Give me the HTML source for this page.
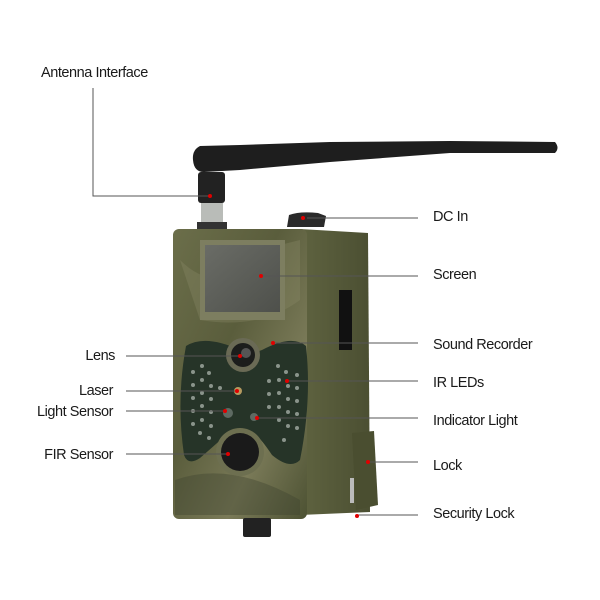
<!DOCTYPE html>
<html><head><style>
html,body{margin:0;padding:0;background:#fff;}
svg{display:block;}
text{font-family:"Liberation Sans",sans-serif;font-size:14.5px;fill:#1a1a1a;letter-spacing:-0.45px;}
</style></head><body>
<svg width="600" height="600" viewBox="0 0 600 600">
<defs>
<linearGradient id="cam" x1="0" y1="0" x2="1" y2="1">
<stop offset="0" stop-color="#6b6e4a"/><stop offset="0.4" stop-color="#5a5d3c"/><stop offset="0.7" stop-color="#7a7a58"/><stop offset="1" stop-color="#4d5233"/>
</linearGradient>
<linearGradient id="side" x1="0" y1="0" x2="1" y2="0">
<stop offset="0" stop-color="#5f6340"/><stop offset="1" stop-color="#4b4f32"/>
</linearGradient>
<linearGradient id="scr" x1="0" y1="0" x2="1" y2="1">
<stop offset="0" stop-color="#6a6c66"/><stop offset="1" stop-color="#4e504b"/>
</linearGradient>
</defs>
<!-- antenna rod -->
<path d="M200,146 Q192,150 193,160 Q194,172 204,172 L240,170 L330,162 L450,153 L555,153 Q560,148 555,142 L450,141 L330,142 L240,145 Z" fill="#1e1e1e"/>
<rect x="198" y="172" width="27" height="31" rx="3" fill="#222"/>
<rect x="201" y="203" width="22" height="22" fill="#b9bcb8"/>
<rect x="197" y="222" width="30" height="8" fill="#333"/>
<!-- DC knob -->
<path d="M287,227 L289,215 Q300,211 318,213 L326,216 L324,227 Z" fill="#2a2a2a"/>
<!-- side panel -->
<path d="M300,229 L368,233 L370,512 L300,515 Z" fill="url(#side)"/>
<rect x="339" y="290" width="13" height="60" fill="#111"/>
<!-- lock -->
<path d="M352,433 L374,431 L378,505 L356,510 Z" fill="#4a4e30"/>
<rect x="350" y="478" width="4" height="25" fill="#bbb"/>
<!-- front body -->
<rect x="173" y="229" width="134" height="290" rx="6" fill="url(#cam)"/>
<path d="M180,260 Q220,300 260,250 L300,240 L300,300 Q260,330 200,320 Z" fill="#8a8a68" opacity="0.35"/>
<path d="M175,480 Q230,460 300,500 L300,515 L175,515 Z" fill="#3f4430" opacity="0.4"/>
<!-- screen -->
<rect x="200" y="240" width="85" height="80" fill="#7d7e60"/>
<rect x="205" y="245" width="75" height="67" fill="url(#scr)"/>
<!-- butterfly panel -->
<path d="M186,346 Q205,334 240,350 Q250,355 262,350 Q292,334 306,346 Q312,400 300,460 Q290,470 272,455 Q262,440 256,435 L226,435 Q215,445 200,458 Q188,466 184,455 Q176,400 186,346 Z" fill="#263428"/>
<!-- LEDs -->
<g fill="#8a948b">
<circle cx="193" cy="372" r="2"/><circle cx="202" cy="366" r="2"/><circle cx="209" cy="373" r="2"/><circle cx="193" cy="385" r="2"/><circle cx="202" cy="380" r="2"/><circle cx="211" cy="386" r="2"/><circle cx="193" cy="398" r="2"/><circle cx="202" cy="393" r="2"/><circle cx="211" cy="399" r="2"/><circle cx="193" cy="411" r="2"/><circle cx="202" cy="406" r="2"/><circle cx="211" cy="412" r="2"/><circle cx="193" cy="424" r="2"/><circle cx="202" cy="420" r="2"/><circle cx="211" cy="426" r="2"/><circle cx="200" cy="433" r="2"/><circle cx="209" cy="438" r="2"/><circle cx="220" cy="388" r="2"/>
<circle cx="278" cy="366" r="2"/><circle cx="286" cy="372" r="2"/><circle cx="297" cy="375" r="2"/><circle cx="269" cy="381" r="2"/><circle cx="279" cy="380" r="2"/><circle cx="288" cy="386" r="2"/><circle cx="297" cy="388" r="2"/><circle cx="269" cy="394" r="2"/><circle cx="279" cy="393" r="2"/><circle cx="288" cy="399" r="2"/><circle cx="297" cy="401" r="2"/><circle cx="269" cy="407" r="2"/><circle cx="279" cy="407" r="2"/><circle cx="288" cy="412" r="2"/><circle cx="297" cy="414" r="2"/><circle cx="279" cy="420" r="2"/><circle cx="288" cy="426" r="2"/><circle cx="297" cy="428" r="2"/><circle cx="284" cy="440" r="2"/>
</g>
<!-- lens -->
<circle cx="243" cy="355" r="17" fill="#6a6a55"/>
<circle cx="243" cy="355" r="12" fill="#1c1d1c"/>
<circle cx="246" cy="353" r="5" fill="#555"/>
<circle cx="238" cy="391" r="4" fill="#b49a60"/>
<circle cx="228" cy="413" r="5" fill="#5e6a62"/>
<circle cx="254" cy="417" r="4" fill="#5e6a62"/>
<!-- FIR -->
<circle cx="240" cy="452" r="24" fill="#6d6f50"/>
<circle cx="240" cy="452" r="19" fill="#1a1a1a"/>
<!-- bottom tab -->
<rect x="243" y="518" width="28" height="19" rx="2" fill="#222"/>
<!-- leader lines -->
<g stroke="#555" stroke-width="1" fill="none">
<polyline points="93,88 93,196 210,196"/>
<line x1="307" y1="218" x2="418" y2="218"/>
<line x1="261" y1="276" x2="418" y2="276"/>
<line x1="274" y1="343" x2="418" y2="343"/>
<line x1="287" y1="381" x2="418" y2="381"/>
<line x1="257" y1="418" x2="418" y2="418"/>
<line x1="368" y1="462" x2="418" y2="462"/>
<line x1="358" y1="515" x2="418" y2="515"/>
<line x1="126" y1="356" x2="240" y2="356"/>
<line x1="126" y1="391" x2="237" y2="391"/>
<line x1="126" y1="411" x2="225" y2="411"/>
<line x1="126" y1="454" x2="228" y2="454"/>
</g>
<!-- red dots -->
<g fill="#e00000">
<circle cx="210" cy="196" r="2"/><circle cx="303" cy="218" r="2"/><circle cx="261" cy="276" r="2"/><circle cx="273" cy="343" r="2"/><circle cx="287" cy="381" r="2"/><circle cx="257" cy="418" r="2"/><circle cx="368" cy="462" r="2"/><circle cx="357" cy="516" r="2"/><circle cx="240" cy="356" r="2"/><circle cx="237" cy="391" r="2"/><circle cx="225" cy="411" r="2"/><circle cx="228" cy="454" r="2"/>
</g>
<!-- labels -->
<text x="41" y="77">Antenna Interface</text>
<text x="433" y="221">DC In</text>
<text x="433" y="279">Screen</text>
<text x="433" y="349">Sound Recorder</text>
<text x="433" y="387">IR LEDs</text>
<text x="433" y="425">Indicator Light</text>
<text x="433" y="470">Lock</text>
<text x="433" y="518">Security Lock</text>
<g text-anchor="end">
<text x="115" y="360">Lens</text>
<text x="113" y="395">Laser</text>
<text x="113" y="416">Light Sensor</text>
<text x="113" y="459">FIR Sensor</text>
</g>
</svg>
</body></html>
